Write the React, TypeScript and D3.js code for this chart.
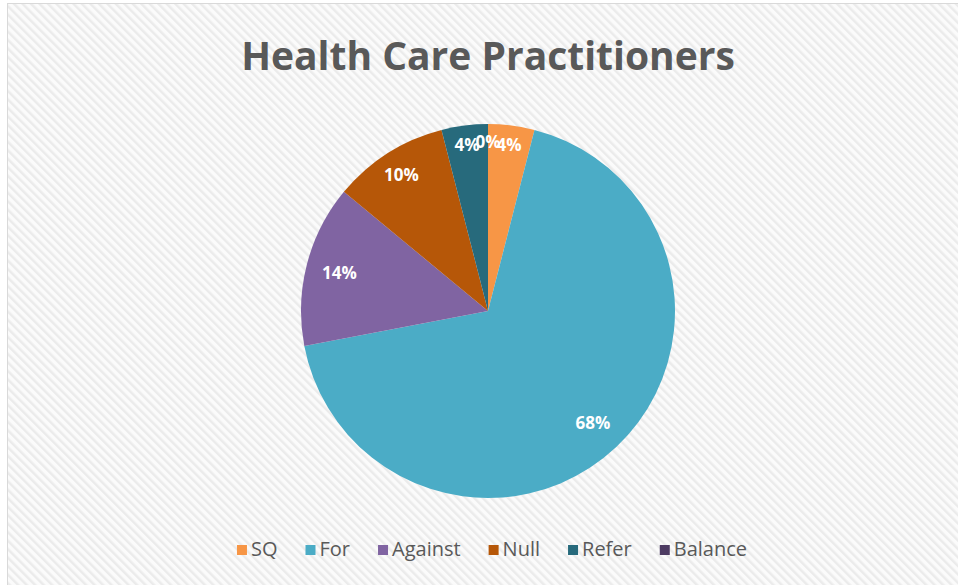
import React, { useEffect, useRef } from "react";
import * as d3 from "d3";

const title = "Health Care Practitioners";
const categories = ["SQ", "For", "Against", "Null", "Refer", "Balance"];
const values = [2, 34, 7, 5, 2, 0];
const colors = ["#F79646", "#4BACC6", "#8064A2", "#B65708", "#276A7C", "#4D3B62"];

const W = 958;
const H = 585;
const FONT = "'Open Sans', 'Noto Sans', sans-serif";

export default function App() {
  const ref = useRef<SVGSVGElement | null>(null);

  useEffect(() => {
    const svg = d3.select(ref.current);
    svg.selectAll("*").remove();

    const defs = svg.append("defs");
    const pat = defs
      .append("pattern")
      .attr("id", "stripes")
      .attr("patternUnits", "userSpaceOnUse")
      .attr("width", 6)
      .attr("height", 6)
      .attr("patternTransform", "rotate(-45)");
    pat.append("rect").attr("width", 6).attr("height", 6).attr("fill", "#fbfbfb");
    pat.append("rect").attr("width", 2.5).attr("height", 6).attr("fill", "#ebebeb");

    svg.append("rect").attr("x", 0).attr("y", 0).attr("width", W).attr("height", H).attr("fill", "#ffffff");
    svg
      .append("rect")
      .attr("x", 7.5)
      .attr("y", 3.5)
      .attr("width", W)
      .attr("height", H)
      .attr("fill", "url(#stripes)")
      .attr("stroke", "#d9d9d9")
      .attr("stroke-width", 1);

    // title
    svg
      .append("text")
      .attr("x", 488)
      .attr("y", 70)
      .attr("text-anchor", "middle")
      .attr("font-family", FONT)
      .attr("font-weight", 700)
      .attr("font-size", 39)
      .attr("fill", "#595959")
      .text(title);

    const cx = 488;
    const cy = 311;
    const r = 187;
    const total = d3.sum(values);
    const pie = d3.pie<number>().sort(null).value((d) => d);
    const arcs = pie(values);
    const arc = d3.arc<d3.PieArcDatum<number>>().innerRadius(0).outerRadius(r);

    const g = svg.append("g").attr("transform", `translate(${cx},${cy})`);
    g.selectAll("path")
      .data(arcs)
      .join("path")
      .attr("d", (d) => arc(d) || "")
      .attr("fill", (_, i) => colors[i]);

    const lg = g.append("g");
    arcs.forEach((a, i) => {
      const pct = Math.round((values[i] / total) * 100);
      const t = lg
        .append("text")
        .attr("text-anchor", "middle")
        .attr("dominant-baseline", "central")
        .attr("font-family", FONT)
        .attr("font-weight", 700)
        .attr("font-size", 17)
        .attr("fill", "#ffffff")
        .text(pct + "%");
      const w = (t.node() as SVGTextElement).getComputedTextLength();
      const h = 16;
      const mid = (a.startAngle + a.endAngle) / 2;
      const dx = Math.sin(mid);
      const dy = -Math.cos(mid);
      let dist: number;
      if (pct >= 12) {
        dist = r * 0.82;
      } else {
        const target = r - 9;
        let lo = 0,
          hi = r;
        for (let k = 0; k < 40; k++) {
          const m = (lo + hi) / 2;
          const px = Math.abs(m * dx) + w / 2;
          const py = Math.abs(m * dy) + h / 2;
          if (Math.hypot(px, py) > target) hi = m;
          else lo = m;
        }
        dist = lo;
      }
      t.attr("x", dist * dx).attr("y", dist * dy);
    });

    // legend
    const leg = svg.append("g");
    let x = 0;
    const sq = 10;
    const gapText = 4;
    const gapItem = 28;
    categories.forEach((c, i) => {
      const it = leg.append("g");
      it.append("rect")
        .attr("x", x)
        .attr("y", -11)
        .attr("width", sq)
        .attr("height", sq)
        .attr("fill", colors[i]);
      const t = it
        .append("text")
        .attr("x", x + sq + gapText)
        .attr("y", 0)
        .attr("font-family", FONT)
        .attr("font-size", 20)
        .attr("fill", "#595959")
        .text(c);
      const tw = (t.node() as SVGTextElement).getComputedTextLength();
      x += sq + gapText + tw + gapItem;
    });
    const totalW = x - gapItem;
    leg.attr("transform", `translate(${492 - totalW / 2},${556})`);
  }, []);

  return (
    <svg
      ref={ref}
      width={W}
      height={H}
      style={{ position: "absolute", left: 0, top: 0, display: "block" }}
    />
  );
}
